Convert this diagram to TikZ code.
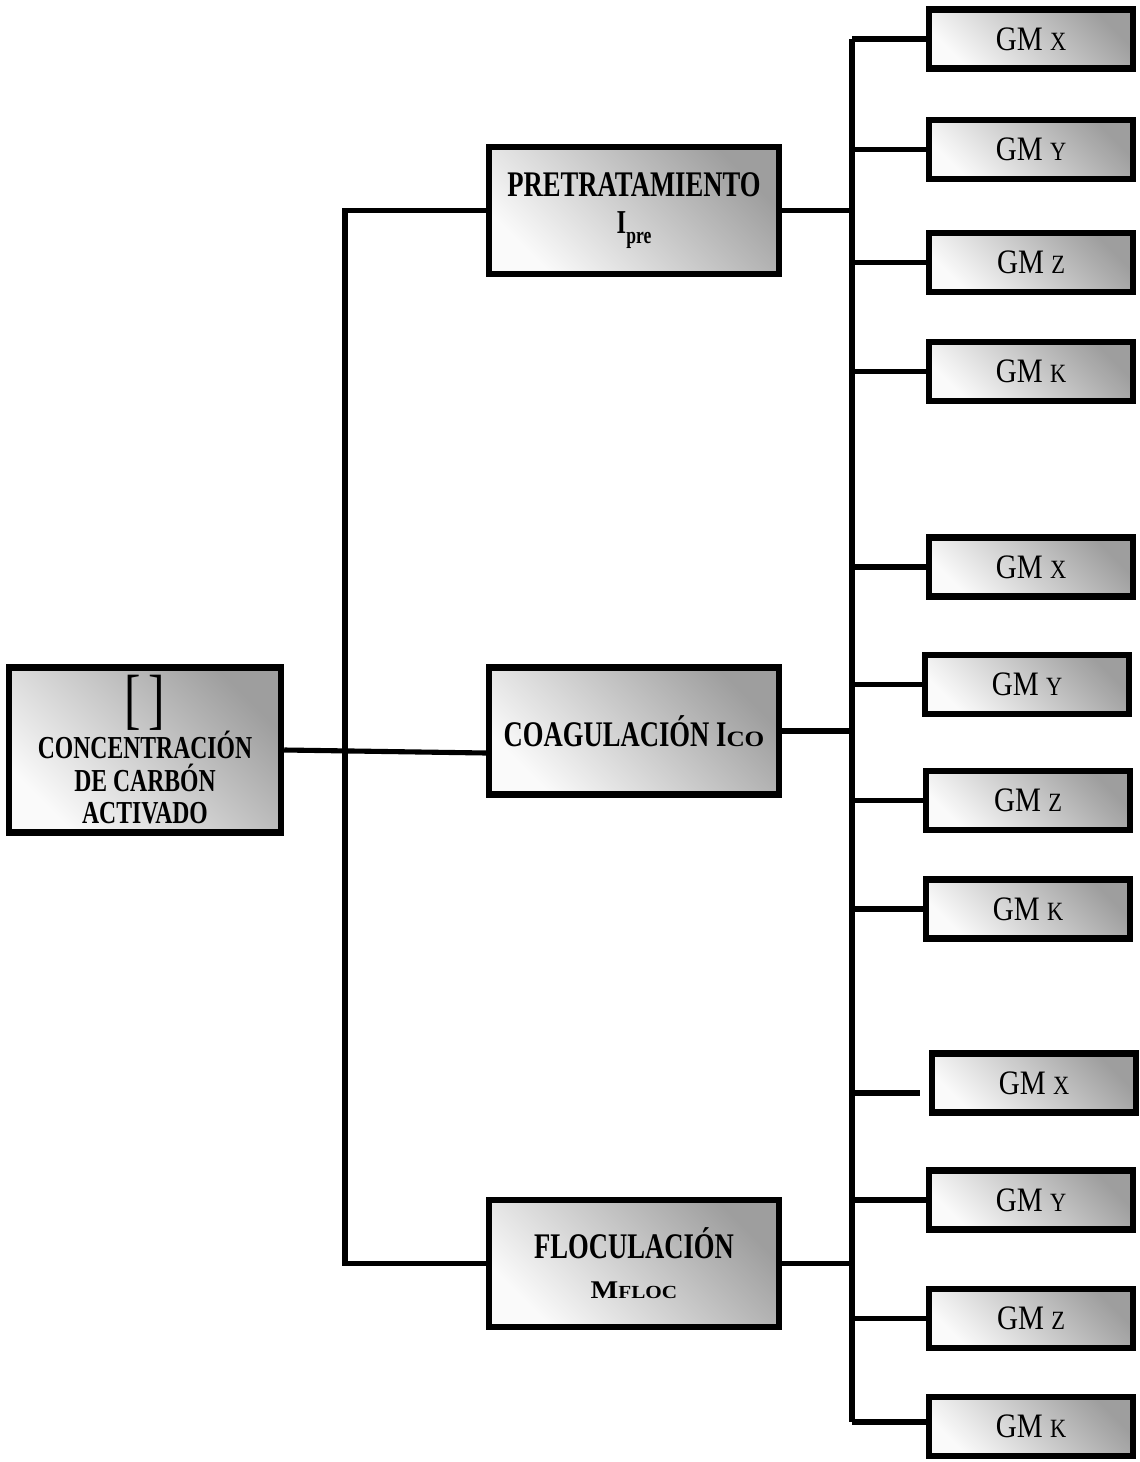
\documentclass[tikz,border=0pt]{standalone}
\usepackage{fontspec}
\setmainfont{Liberation Serif}[FakeStretch=0.74]
\newfontfamily\gmfont[FakeStretch=0.85]{Liberation Serif}
\newfontfamily\widefont[FakeStretch=1.15]{Liberation Serif}

\begin{document}
\begin{tikzpicture}[x=0.02cm, y=-0.02cm,
    box/.style={draw, line width=3.7pt, inner sep=0pt, align=center,
      top color=black!38, bottom color=black!2, shading angle=-45},
    bigbox/.style={box, minimum width=5.80cm, minimum height=2.54cm,
      font=\bfseries\fontsize{20.5}{23.8}\selectfont},
    gmbox/.style={box, minimum width=4.08cm, minimum height=1.18cm,
      font=\gmfont\fontsize{19.5}{22}\selectfont},
    wire/.style={line width=2.9pt}]
        \useasboundingbox (0,0) rectangle (1139,1462);

        % Concentration box
        \node[box, minimum width=5.44cm, minimum height=3.30cm,
              font=\bfseries\fontsize{18.2}{18.7}\selectfont] (conc) at (145,750)
              {{\mdseries\fontsize{38}{38}\selectfont [\hspace{0.12em}]}\\[-1pt]
               CONCENTRACIÓN\\DE CARBÓN\\ACTIVADO};

        % Process stages
        \node[bigbox] (pre) at (634,210.5)
              {PRETRATAMIENTO\\[-3pt]{\fontsize{19}{19}\selectfont I\raisebox{-0.3em}{\fontsize{13.5}{14}\selectfont pre}}};
        \node[bigbox] (coag) at (634,731)
              {COAGULACIÓN I{\widefont\fontsize{12.5}{13}\selectfont CO}};
        \node[bigbox] (floc) at (634,1263.5)
              {FLOCULACIÓN\\[-1pt]{\widefont\fontsize{14.5}{16}\selectfont M{\fontsize{10.5}{11}\selectfont FLOC}}};

        % GM boxes after pretreatment
        \node[gmbox] (preX) at (1031,39)    {GM {\fontsize{15}{16}\selectfont X}};
        \node[gmbox] (preY) at (1031,149.5) {GM {\fontsize{15}{16}\selectfont Y}};
        \node[gmbox] (preZ) at (1031,262.5) {GM {\fontsize{15}{16}\selectfont Z}};
        \node[gmbox] (preK) at (1031,371.5) {GM {\fontsize{15}{16}\selectfont K}};

        % GM boxes after coagulation
        \node[gmbox] (coX) at (1031,567)   {GM {\fontsize{15}{16}\selectfont X}};
        \node[gmbox] (coY) at (1027,684.5) {GM {\fontsize{15}{16}\selectfont Y}};
        \node[gmbox] (coZ) at (1028,800.5) {GM {\fontsize{15}{16}\selectfont Z}};
        \node[gmbox] (coK) at (1028,909)   {GM {\fontsize{15}{16}\selectfont K}};

        % GM boxes after flocculation
        \node[gmbox] (flX) at (1034,1083)   {GM {\fontsize{15}{16}\selectfont X}};
        \node[gmbox] (flY) at (1031,1200)   {GM {\fontsize{15}{16}\selectfont Y}};
        \node[gmbox] (flZ) at (1031,1318.5) {GM {\fontsize{15}{16}\selectfont Z}};
        \node[gmbox] (flK) at (1031,1426.5) {GM {\fontsize{15}{16}\selectfont K}};

        % Bus lines
        \coordinate (busL) at (345,0);
        \coordinate (busR) at (852,0);
        \coordinate (busRtop) at (852,39);
        \coordinate (busRbot) at (852,1422);

        % Left connectors
        \draw[wire] (conc.east) -- ([yshift=-0.06cm]coag.west |- conc.east);
        \draw[wire] (pre.west) -- (pre.west -| busL) -- (floc.west -| busL) -- (floc.west);

        % Right connectors
        \draw[wire] (busRtop) -- (busRbot);
        \draw[wire] (pre.east) -- (pre.east -| busR);
        \draw[wire] (coag.east) -- (coag.east -| busR);
        \draw[wire] (floc.east) -- (floc.east -| busR);
        \foreach \g in {preX,preY,preZ,preK,coX,coY,coZ,coK,flY,flZ}
            \draw[wire] (\g.west -| busR) -- (\g.west);
        \draw[wire] ([yshift=-0.2cm]flX.west -| busR) -- ([yshift=-0.2cm,xshift=-0.18cm]flX.west);
        \draw[wire] (busRbot) -- (flK.west |- busRbot);
    \end{tikzpicture}
\end{document}
